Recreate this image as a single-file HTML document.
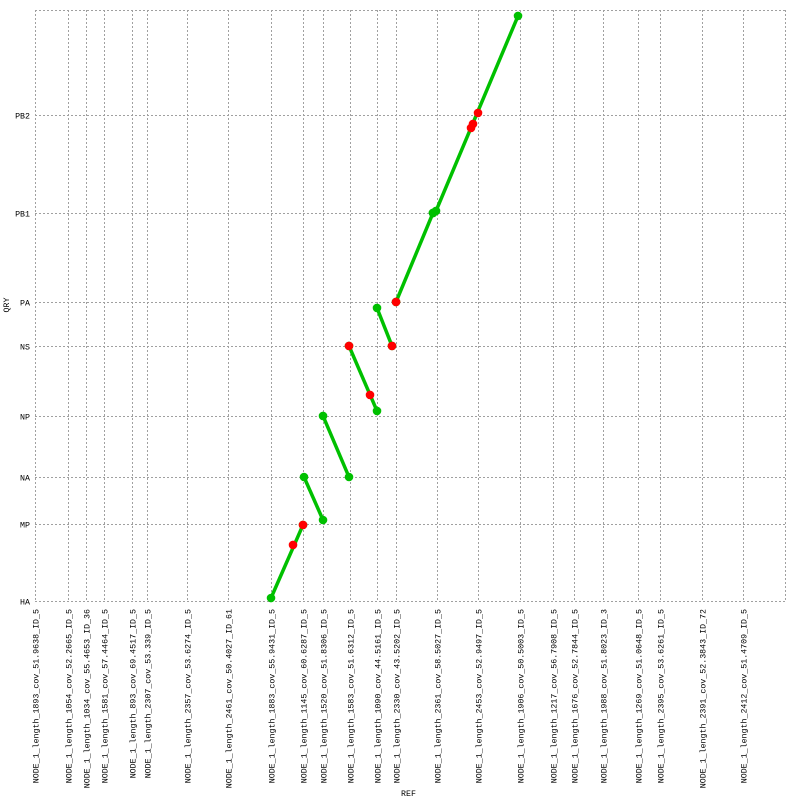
<!DOCTYPE html>
<html><head><meta charset="utf-8"><style>
html,body{margin:0;padding:0;background:#fff}
svg text{font-family:"Liberation Mono",monospace;font-size:8.3px;fill:#000}
</style></head><body>
<svg id="chart" width="800" height="800" xmlns="http://www.w3.org/2000/svg">
<g id="grid"></g>
<g id="xlabels"></g>
<g id="ylabels"></g>
<g id="marks"></g>
<text transform="translate(9,305) rotate(-90)" text-anchor="middle">QRY</text>
<text x="401" y="796">REF</text>
</svg>
<script>
const refNames=["NODE_1_length_1893_cov_51.9638_ID_5","NODE_1_length_1054_cov_52.2665_ID_5","NODE_1_length_1034_cov_55.4653_ID_36","NODE_1_length_1581_cov_57.4464_ID_5","NODE_1_length_893_cov_69.4517_ID_5","NODE_1_length_2307_cov_53.339_ID_5","NODE_1_length_2357_cov_53.6274_ID_5","NODE_1_length_2461_cov_50.4027_ID_61","NODE_1_length_1883_cov_55.9431_ID_5","NODE_1_length_1145_cov_60.6287_ID_5","NODE_1_length_1520_cov_51.8306_ID_5","NODE_1_length_1583_cov_51.6312_ID_5","NODE_1_length_1090_cov_44.5161_ID_5","NODE_1_length_2330_cov_43.5202_ID_5","NODE_1_length_2361_cov_58.5027_ID_5","NODE_1_length_2453_cov_52.9497_ID_5","NODE_1_length_1906_cov_50.5003_ID_5","NODE_1_length_1217_cov_56.7908_ID_5","NODE_1_length_1676_cov_52.7844_ID_5","NODE_1_length_1988_cov_51.8023_ID_3","NODE_1_length_1269_cov_51.0648_ID_5","NODE_1_length_2395_cov_53.6261_ID_5","NODE_1_length_2391_cov_52.3843_ID_72","NODE_1_length_2412_cov_51.4709_ID_5"];
const refLens=[1893,1054,1034,1581,893,2307,2357,2461,1883,1145,1520,1583,1090,2330,2361,2453,1906,1217,1676,1988,1269,2395,2391,2412];
const qryNames=["HA","MP","NA","NP","NS","PA","PB1","PB2"];
const qryLens=[1780,1085,1410,1615,1015,2055,2265,2425];
const segX1=[13594,15494,16589,18086,19699,20794,22925,23098];
const segY1=[69,2864,4274,5891,6768,6907,8963,9009];
const segX2=[15437,16589,18086,19699,20563,22925,22925,27821];
const segY2=[1756,1871,2864,4389,5891,8963,8963,13514];
const redX=[14861,15437,18086,19296,20563,20794,25517,25229,25114];
const redY=[1294,1756,5891,4759,5891,6907,11273,11019,10926];

const NS="http://www.w3.org/2000/svg";
const L=35,R=785,T=10,B=601;
const xTot=refLens.reduce((a,b)=>a+b,0), yTot=qryLens.reduce((a,b)=>a+b,0);
const xs=v=>L+(R-L)*v/xTot, ys=v=>B-(B-T)*v/yTot;
function mk(tag,attrs,parent){const e=document.createElementNS(NS,tag);for(const k in attrs)e.setAttribute(k,attrs[k]);parent.appendChild(e);return e;}
const grid=document.getElementById('grid'),xl=document.getElementById('xlabels'),yl=document.getElementById('ylabels'),marks=document.getElementById('marks');
const dash={stroke:"#a0a0a0","stroke-width":1,"stroke-dasharray":"2,2"};
let acc=0;
refNames.forEach((n,i)=>{const x=Math.round(xs(acc))+0.5;
 const ln=mk('line',Object.assign({x1:x,y1:T,x2:x,y2:B},dash),grid);
 
 
 const t=mk('text',{transform:`translate(${x+3},609) rotate(-90)`,"text-anchor":"end"},xl);
 t.textContent=n;
 
 
 acc+=refLens[i];});
{const x=R+0.5;const ln=mk('line',Object.assign({x1:x,y1:T,x2:x,y2:B},dash),grid);
 
 }
acc=0;
qryNames.forEach((n,i)=>{const y=Math.round(ys(acc))+0.5;
 const ln=mk('line',Object.assign({x1:L,y1:y,x2:R,y2:y},dash),grid);
 
 
 const t=mk('text',{x:30,y:y+3,"text-anchor":"end"},yl);
 t.textContent=n;
 
 
 acc+=qryLens[i];});
{const y=T+0.5;const ln=mk('line',Object.assign({x1:L,y1:y,x2:R,y2:y},dash),grid);
 
 }
segX1.forEach((_,i)=>{
 const l=mk('line',{x1:xs(segX1[i]),y1:ys(segY1[i]),x2:xs(segX2[i]),y2:ys(segY2[i]),stroke:"#00c000","stroke-width":3.5},marks);
 
 });
segX1.forEach((_,i)=>{
 [[segX1[i],segY1[i]],[segX2[i],segY2[i]]].forEach(p=>{
 const c=mk('circle',{cx:xs(p[0]),cy:ys(p[1]),r:4.3,fill:"#00c000"},marks);
 
 });});
redX.forEach((_,i)=>{
 const c=mk('circle',{cx:xs(redX[i]),cy:ys(redY[i]),r:4.3,fill:"#ff0000"},marks);
 
 });
</script>
</body></html>
